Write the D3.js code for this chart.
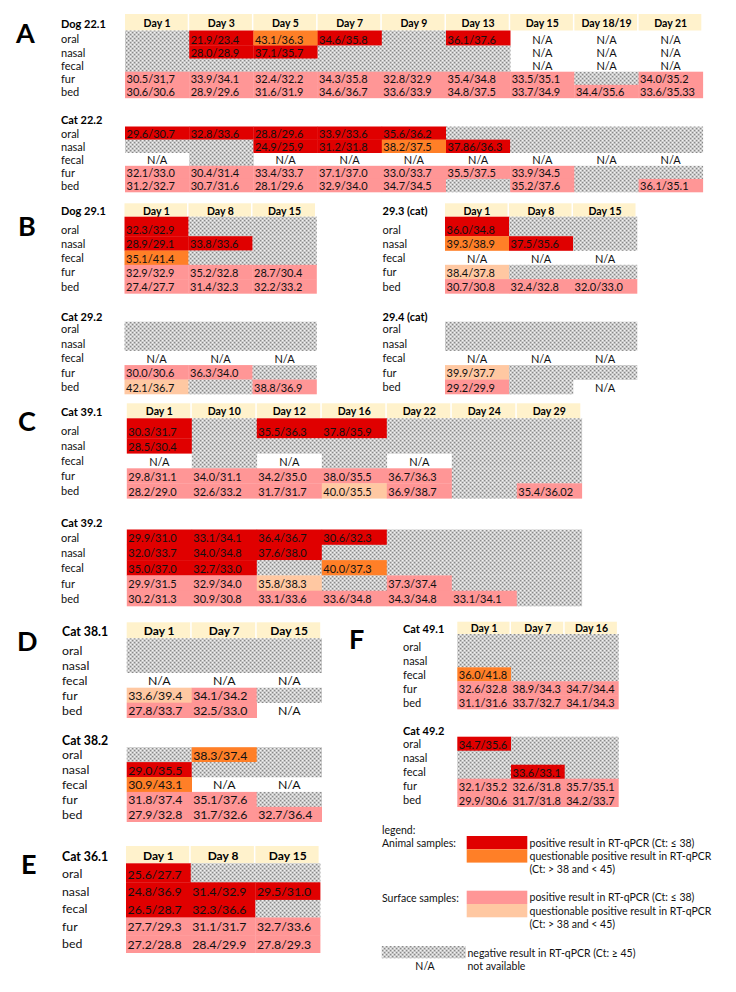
<!DOCTYPE html>
<html><head><meta charset="utf-8">
<script src="https://cdn.jsdelivr.net/npm/d3@7/dist/d3.min.js"></script>
<style>body{margin:0;background:#fff} svg{display:block;font-family:Lato,"Open Sans",sans-serif}</style>
</head><body>
<svg id="c" width="736" height="992"></svg>
<script>
// ---------------- DATA ----------------
const sampleRows = ["oral","nasal","fecal","fur","bed"];
const days22 = ["Day 1","Day 3","Day 5","Day 7","Day 9","Day 13","Day 15","Day 18/19","Day 21"];
const days29 = ["Day 1","Day 8","Day 15"];
const days39 = ["Day 1","Day 10","Day 12","Day 16","Day 22","Day 24","Day 29"];
const days38 = ["Day 1","Day 7","Day 15"];
const days36 = ["Day 1","Day 8","Day 15"];
const days49 = ["Day 1","Day 7","Day 16"];
// result codes: P animal positive, Q animal questionable, S surface positive,
// L surface questionable, "-" negative, "NA" not available
const dog221 = [
 ["-","P 21.9/23.4","Q 43.1/36.3","P 34.6/35.8","-","P 36.1/37.6","NA","NA","NA"],
 ["-","P 28.0/28.9","P 37.1/35.7","-","-","-","NA","NA","NA"],
 ["-","-","-","-","-","-","NA","NA","NA"],
 ["S 30.5/31,7","S 33.9/34.1","S 32.4/32.2","S 34.3/35.8","S 32.8/32.9","S 35.4/34.8","S 33.5/35.1","-","S 34.0/35.2"],
 ["S 30.6/30.6","S 28.9/29.6","S 31.6/31.9","S 34.6/36.7","S 33.6/33.9","S 34.8/37.5","S 33.7/34.9","S 34.4/35.6","S 33.6/35.33"]
];
const cat222 = [
 ["P 29.6/30.7","P 32.8/33.6","P 28.8/29.6","P 33.9/33.6","P 35.6/36.2","-","-","-","-"],
 ["-","-","P 24.9/25.9","P 31.2/31.8","Q 38.2/37.5","P 37.86/36.3","-","-","-"],
 ["NA","-","NA","NA","NA","NA","NA","NA","NA"],
 ["S 32.1/33.0","S 30.4/31.4","S 33.4/33.7","S 37.1/37.0","S 33.0/33.7","S 35.5/37.5","S 33.9/34.5","-","-"],
 ["S 31.2/32.7","S 30.7/31.6","S 28.1/29.6","S 32.9/34.0","S 34.7/34.5","-","S 35.2/37.6","-","S 36.1/35.1"]
];
const dog291 = [
 ["P 32.3/32.9","-","-"],
 ["P 28.9/29.1","P 33.8/33.6","-"],
 ["Q 35.1/41.4","-","-"],
 ["S 32.9/32.9","S 35.2/32.8","S 28.7/30.4"],
 ["S 27.4/27.7","S 31.4/32.3","S 32.2/33.2"]
];
const cat293 = [
 ["P 36.0/34.8","-","-"],
 ["Q 39.3/38.9","P 37.5/35.6","-"],
 ["NA","NA","NA"],
 ["L 38.4/37.8","-","-"],
 ["S 30.7/30.8","S 32.4/32.8","S 32.0/33.0"]
];
const cat292 = [
 ["-","-","-"],
 ["-","-","-"],
 ["NA","NA","NA"],
 ["S 30.0/30.6","S 36.3/34.0","-"],
 ["L 42.1/36.7","-","S 38.8/36.9"]
];
const cat294 = [
 ["-","-","-"],
 ["-","-","-"],
 ["NA","NA","NA"],
 ["L 39.9/37.7","-","-"],
 ["S 29.2/29.9","-","NA"]
];
const cat391 = [
 ["P 30.3/31.7","-","P 35.5/36.3","P 37.8/35.9","-","-","-"],
 ["P 28.5/30.4","-","-","-","-","-","-"],
 ["NA","-","NA","-","NA","-","-"],
 ["S 29.8/31.1","S 34.0/31.1","S 34.2/35.0","S 38.0/35.5","S 36.7/36.3","-","-"],
 ["S 28.2/29.0","S 32.6/33.2","S 31.7/31.7","L 40.0/35.5","S 36.9/38.7","-","S 35.4/36.02"]
];
const cat392 = [
 ["P 29.9/31.0","P 33.1/34.1","P 36.4/36.7","P 30.6/32.3","-","-","-"],
 ["P 32.0/33.7","P 34.0/34.8","P 37.6/38.0","-","-","-","-"],
 ["P 35.0/37.0","P 32.7/33.0","-","Q 40.0/37.3","-","-","-"],
 ["S 29.9/31.5","S 32.9/34.0","L 35.8/38.3","-","S 37.3/37.4","-","-"],
 ["S 30.2/31.3","S 30.9/30.8","S 33.1/33.6","S 33.6/34.8","S 34.3/34.8","S 33.1/34.1","-"]
];
const cat381 = [
 ["-","-","-"],
 ["-","-","-"],
 ["NA","NA","NA"],
 ["L 33.6/39.4","S 34.1/34.2","-"],
 ["S 27.8/33.7","S 32.5/33.0","NA"]
];
const cat382 = [
 ["-","Q 38.3/37.4","-"],
 ["P 29.0/35.5","-","-"],
 ["Q 30.9/43.1","NA","NA"],
 ["S 31.8/37.4","S 35.1/37.6","-"],
 ["S 27.9/32.8","S 31.7/32.6","S 32.7/36.4"]
];
const cat361 = [
 ["P 25.6/27.7","-","-"],
 ["P 24.8/36.9","P 31.4/32.9","P 29.5/31.0"],
 ["P 26.5/28.7","P 32.3/36.6","-"],
 ["S 27.7/29.3","S 31.1/31.7","S 32.7/33.6"],
 ["S 27.2/28.8","S 28.4/29.9","S 27.8/29.3"]
];
const cat491 = [
 ["-","-","-"],
 ["-","-","-"],
 ["Q 36.0/41.8","-","-"],
 ["S 32.6/32.8","S 38.9/34.3","S 34.7/34.4"],
 ["S 31.1/31.6","S 33.7/32.7","S 34.1/34.3"]
];
const cat492 = [
 ["P 34.7/35.6","-","-"],
 ["-","-","-"],
 ["-","P 33.6/33.1","-"],
 ["S 32.1/35.2","S 32.6/31.8","S 35.7/35.1"],
 ["S 29.9/30.6","S 31.7/31.8","S 34.2/33.7"]
];
const panelLetters = ["A","B","C","D","E","F"];
const legendAnimal = [["P","positive result in RT-qPCR (Ct: \u2264 38)"],["Q","questionable positive result in RT-qPCR","(Ct: > 38 and < 45)"]];
const legendSurface = [["S","positive result in RT-qPCR (Ct: \u2264 38)"],["L","questionable positive result in RT-qPCR","(Ct: > 38 and < 45)"]];
const legendOther = [["-","negative result in RT-qPCR (Ct: \u2265 45)"],["NA","not available"]];

// ---------------- STYLE / LAYOUT ----------------
const fills = {P:"#e00000",Q:"#ff7f27",S:"#ff9696",L:"#ffc8a2"};
const headerFill = "#fff2cc";
const svg = d3.select("#c");
const defs = svg.append("defs");
const pat = defs.append("pattern").attr("id","hatch").attr("patternUnits","userSpaceOnUse").attr("width",4).attr("height",4);
pat.append("rect").attr("width",4).attr("height",4).attr("fill","#cbcbcb");
[[0,0,"#8a8a8a"],[2,2,"#8a8a8a"],[2,0,"#f2f2f2"],[0,2,"#f2f2f2"]].forEach(p=>pat.append("rect").attr("x",p[0]).attr("y",p[1]).attr("width",1.2).attr("height",1.2).attr("fill",p[2]));

const small = {title:11, label:11, head:10.5, cell:11};
const big = {title:12.3, label:12.3, head:12, cell:12.3};
const blocks = [
 {title:"Dog 22.1", days:days22, data:dog221, lx:61, ty:23, head:[14,30.5], x0:125, cw:64.2, bottom:97.9, rh:13.1, f:small},
 {title:"Cat 22.2", days:days22, data:cat222, lx:61, ty:119, x0:125, cw:64.2, bottom:192, rh:13.1, f:small},
 {title:"Dog 29.1", days:days29, data:dog291, lx:61, ty:210.5, head:[203.3,216.7], x0:124.5, cw:64, bottom:293.4, rh:14.3, f:small},
 {title:"29.3 (cat)", days:days29, data:cat293, lx:382.6, ty:210.5, head:[203.3,216.7], x0:445, cw:64, bottom:293.4, rh:14.3, f:small},
 {title:"Cat 29.2", days:days29, data:cat292, lx:61, ty:316, x0:124.5, cw:64, bottom:394, rh:14.46, f:small},
 {title:"29.4 (cat)", days:days29, data:cat294, lx:382.6, ty:316, x0:445, cw:64, bottom:394, rh:14.46, f:small},
 {title:"Cat 39.1", days:days39, data:cat391, lx:61, ty:411.5, head:[403.3,418.3], x0:126.8, cw:65, bottom:498.3, rh:15, f:small},
 {title:"Cat 39.2", days:days39, data:cat392, lx:61, ty:522.3, x0:126.8, cw:65, bottom:606, rh:15.3, f:small},
 {title:"Cat 38.1", days:days38, data:cat381, lx:62, ty:631, head:[622.3,638.3], x0:126.7, cw:65, bottom:717.7, rh:15, f:big},
 {title:"Cat 38.2", days:days38, data:cat382, lx:62, ty:740.7, x0:126.7, cw:65, bottom:821.7, rh:14.9, f:big},
 {title:"Cat 36.1", days:days36, data:cat361, lx:62, ty:856.7, head:[846,863.3], x0:126, cw:64.7, bottom:952.7, rh:17.6, f:big},
 {title:"Cat 49.1", days:days49, data:cat491, lx:403, ty:628.3, head:[621.7,634], x0:457.3, cw:53.7, bottom:709, rh:13.9, f:small},
 {title:"Cat 49.2", days:days49, data:cat492, lx:403, ty:730, x0:457.3, cw:53.7, bottom:806.7, rh:14, f:small}
];
const letterPos = [[16,43],[18,236],[18,431],[17,651],[21,874],[349,649]];

function drawBlock(b){
  const g = svg.append("g");
  const x = d3.scaleBand().domain(b.days).range([b.x0, b.x0 + b.days.length*b.cw]);
  const yTop = b.bottom - sampleRows.length*b.rh;
  const y = d3.scaleBand().domain(sampleRows).range([yTop, b.bottom]);
  g.append("text").attr("x",b.lx).attr("y",b.ty).attr("dominant-baseline","central")
   .attr("font-weight","bold").attr("font-size",b.f.title).attr("fill","#000").text(b.title);
  if(b.head){
    const hg = g.append("g");
    hg.selectAll("rect").data(b.days).join("rect")
      .attr("x",d=>x(d)).attr("y",b.head[0]).attr("width",x.bandwidth()-1.5).attr("height",b.head[1]-b.head[0])
      .attr("fill",headerFill);
    hg.selectAll("text").data(b.days).join("text")
      .attr("x",d=>x(d)+x.bandwidth()/2).attr("y",(b.head[0]+b.head[1])/2+0.5)
      .attr("text-anchor","middle").attr("dominant-baseline","central")
      .attr("font-weight","bold").attr("font-size",b.f.head).attr("fill","#000").text(d=>d);
  }
  g.selectAll("text.rl").data(sampleRows).join("text").attr("class","rl")
   .attr("x",b.lx).attr("y",d=>y(d)+y.bandwidth()/2).attr("dominant-baseline","central")
   .attr("font-size",b.f.label).attr("fill","#111").text(d=>d);
  const cells = [];
  b.data.forEach((row,i)=>row.forEach((c,j)=>{
    const sp = c.indexOf(" ");
    const code = sp<0 ? c : c.slice(0,sp);
    const val = sp<0 ? "" : c.slice(sp+1);
    cells.push({row:sampleRows[i], day:b.days[j], code, val, first:i===0});
  }));
  const top = d=> (d.first && b.head) ? b.head[1] : y(d.row);
  g.selectAll("rect.cell").data(cells.filter(d=>d.code!=="NA")).join("rect").attr("class","cell")
   .attr("x",d=>x(d.day)).attr("y",top).attr("width",x.bandwidth()+0.3)
   .attr("height",d=>y(d.row)+y.bandwidth()-top(d)+0.3)
   .attr("fill",d=>d.code==="-" ? "url(#hatch)" : fills[d.code]);
  g.selectAll("text.val").data(cells.filter(d=>d.val)).join("text").attr("class","val")
   .attr("x",d=>x(d.day)+1.5).attr("y",d=>y(d.row)+y.bandwidth()/2+0.5).attr("dominant-baseline","central")
   .attr("font-size",b.f.cell).attr("fill","#111").text(d=>d.val);
  g.selectAll("text.na").data(cells.filter(d=>d.code==="NA")).join("text").attr("class","na")
   .attr("x",d=>x(d.day)+x.bandwidth()/2).attr("y",d=>y(d.row)+y.bandwidth()/2+0.5)
   .attr("text-anchor","middle").attr("dominant-baseline","central")
   .attr("font-size",b.f.cell).attr("fill","#111").text("N/A");
}
blocks.forEach(drawBlock);

svg.selectAll("text.letter").data(panelLetters).join("text").attr("class","letter")
  .attr("x",(d,i)=>letterPos[i][0]).attr("y",(d,i)=>letterPos[i][1])
  .attr("font-weight","bold").attr("font-size",27).attr("fill","#000").text(d=>d);

// legend
const lg = svg.append("g").attr("font-size",10.5).attr("fill","#111");
const lt = (x,y,t,anchor)=>lg.append("text").attr("x",x).attr("y",y).attr("dominant-baseline","central").attr("text-anchor",anchor||"start").text(t);
lt(382,830,"legend:");
lt(382,842.7,"Animal samples:");
lt(382,897.7,"Surface samples:");
const boxX = 466.7, boxW = 60.6, boxH = 13.3, textX = 529.5;
[[legendAnimal,836],[legendSurface,890.7]].forEach(([items,y0])=>{
  items.forEach((it,i)=>{
    const yy = y0 + i*boxH;
    lg.append("rect").attr("x",boxX).attr("y",yy).attr("width",boxW).attr("height",boxH).attr("fill",fills[it[0]]);
    lt(textX, yy+boxH/2, it[1]);
    if(it[2]) lt(textX, yy+boxH/2+13.5, it[2]);
  });
});
lg.append("rect").attr("x",381.7).attr("y",946).attr("width",84).attr("height",12.3).attr("fill","url(#hatch)");
lt(467.5,953.3,legendOther[0][1]);
lt(425,965.5,"N/A","middle");
lt(467.5,965.5,legendOther[1][1]);
</script>
</body></html>
